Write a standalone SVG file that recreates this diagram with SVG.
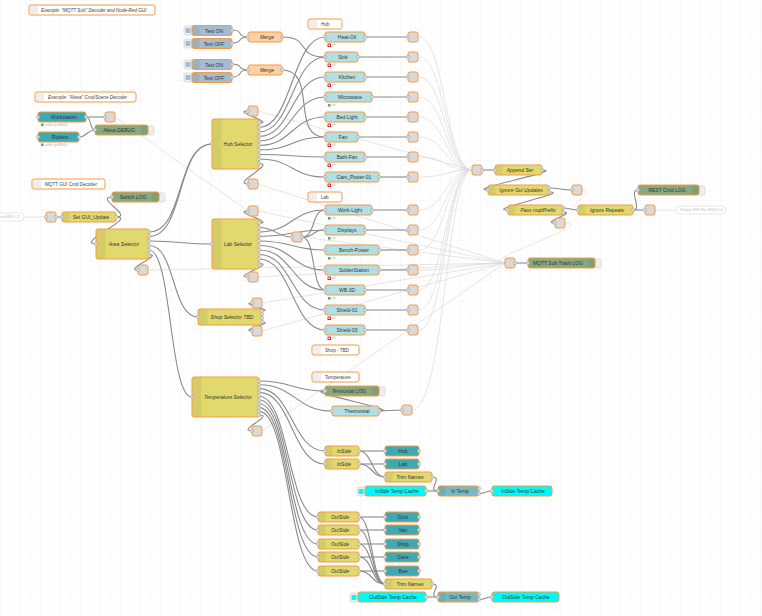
<svg xmlns="http://www.w3.org/2000/svg" width="762" height="616" viewBox="0 0 762 616">
<defs>
<pattern id="grid" width="10" height="10" patternUnits="userSpaceOnUse">
<path d="M10 0 L0 0 0 10" fill="none" stroke="#ececec" stroke-width="0.6"/>
</pattern>
<style>
.nd{stroke:#f59b42;stroke-width:1}
.ic{fill:#000;fill-opacity:.06}
.lb{font-family:"Liberation Sans",Arial,sans-serif;font-size:5px;fill:#333;text-anchor:middle;dominant-baseline:central}
.cm{font-family:"Liberation Sans",Arial,sans-serif;font-size:4.6px;fill:#444;dominant-baseline:central}
.it{font-style:italic}
.w{fill:none;stroke:#8a8a8a;stroke-width:1.1}
.lk{fill:none;stroke:#dadada;stroke-width:.7}
.pt{fill:#d9d9d9;stroke:#999;stroke-width:.4}
.gr{fill:#d9d9d9}
.fn{fill:#e2d96e}
.dv{fill:#b2dfe4}
.dt{fill:#3fa8b2}
.dbg{fill:#87a980}
.inj{fill:#a6bbcf}
.mg{fill:#fcd1a5}
.cy{fill:#00fafa}
.tp{fill:#7ab8bf}
.cmt{fill:#fff}
.cmi{fill:#eee}
.btn{fill:#eee;stroke:#ccc;stroke-width:.6}
.st{font-family:"Liberation Sans",Arial,sans-serif;font-size:3px;fill:#aaa;dominant-baseline:central}
.off{fill:#fff;stroke:#d00;stroke-width:.8}
.on{fill:#4caf7d}
.fd{fill:#fff;stroke:#ddd;stroke-width:.7}
.fdt{font-family:"Liberation Sans",Arial,sans-serif;font-size:3.4px;fill:#bbb;dominant-baseline:central}
</style>
</defs>
<rect width="762" height="616" fill="#fff"/>
<rect width="762" height="616" fill="url(#grid)"/>

<g id="links">
<path class="lk" d="M24,217 L46,217"/>
<path class="lk" d="M115,117 L248,211"/>
<path class="lk" d="M258,111 L472,170"/>
<path class="lk" d="M258,184 L505,263"/>
<path class="lk" d="M258,211 L505,263"/>
<path class="lk" d="M258,277 L505,263"/>
<path class="lk" d="M148,270 L505,263"/>
<path class="lk" d="M262,303 L505,263"/>
<path class="lk" d="M262,331 L505,263"/>
<path class="lk" d="M262,431 L505,263"/>
<path class="lk" d="M302,237 L505,263"/>
<path class="lk" d="M419,37 C445,37 446,170 472,170"/>
<path class="lk" d="M419,57 C445,57 446,170 472,170"/>
<path class="lk" d="M419,77 C445,77 446,170 472,170"/>
<path class="lk" d="M419,97 C445,97 446,170 472,170"/>
<path class="lk" d="M419,117 C445,117 446,170 472,170"/>
<path class="lk" d="M419,137 C445,137 446,170 472,170"/>
<path class="lk" d="M419,157 C445,157 446,170 472,170"/>
<path class="lk" d="M419,177 C445,177 446,170 472,170"/>
<path class="lk" d="M419,210 C445,210 446,170 472,170"/>
<path class="lk" d="M419,230 C445,230 446,170 472,170"/>
<path class="lk" d="M419,250 C445,250 446,170 472,170"/>
<path class="lk" d="M419,270 C460,270 465,263 505,263"/>
<path class="lk" d="M419,290 C445,290 446,170 472,170"/>
<path class="lk" d="M419,310 C445,310 446,170 472,170"/>
<path class="lk" d="M419,330 C445,330 446,170 472,170"/>
<path class="lk" d="M412,410 C445,410 446,170 472,170"/>
<path class="lk" d="M582,190 C600,190 560,210 578,210"/>
<path class="lk" d="M565,223 C600,223 470,263 505,263"/>
<path class="lk" d="M655,210 L676,210"/>
</g>

<g id="wires">
<path class="w" d="M232,30 C244,30 236,37 248,37"/>
<path class="w" d="M232,43 C244,43 236,37 248,37"/>
<path class="w" d="M232,64 C244,64 236,70 248,70"/>
<path class="w" d="M232,77 C244,77 236,70 248,70"/>
<path class="w" d="M282,37 C312,37 295,57 325,57"/>
<path class="w" d="M282,70 C318,70 290,137 325,137"/>
<path class="w" d="M259,123 C276,123 231,111 248,111"/>
<path class="w" d="M259,127.5 C292,127.5 292,37 325,37"/>
<path class="w" d="M259,132 C292,132 292,57 325,57"/>
<path class="w" d="M259,136.5 C292,136.5 292,77 325,77"/>
<path class="w" d="M259,141 C292,141 292,97 325,97"/>
<path class="w" d="M259,145.5 C292,145.5 292,117 325,117"/>
<path class="w" d="M259,150 C292,150 292,137 325,137"/>
<path class="w" d="M259,154.5 C292,154.5 292,157 325,157"/>
<path class="w" d="M259,159 C292,159 292,177 325,177"/>
<path class="w" d="M259,163.5 C276,163.5 231,184 248,184"/>
<path class="w" d="M365,37 L408,37"/>
<path class="w" d="M358,57 L408,57"/>
<path class="w" d="M365,77 L408,77"/>
<path class="w" d="M372,97 L408,97"/>
<path class="w" d="M365,117 L408,117"/>
<path class="w" d="M358,137 L408,137"/>
<path class="w" d="M365,157 L408,157"/>
<path class="w" d="M379,177 L408,177"/>
<path class="w" d="M259,223 C276,223 231,211 248,211"/>
<path class="w" d="M259,227.5 C276,227.5 276,237 292,237"/>
<path class="w" d="M259,232 C292,232 292,210 325,210"/>
<path class="w" d="M259,236.5 C292,236.5 292,230 325,230"/>
<path class="w" d="M259,241 C292,241 292,250 325,250"/>
<path class="w" d="M259,245.5 C292,245.5 292,270 325,270"/>
<path class="w" d="M259,250 C292,250 292,290 325,290"/>
<path class="w" d="M259,254.5 C292,254.5 292,310 325,310"/>
<path class="w" d="M259,259 C292,259 292,330 325,330"/>
<path class="w" d="M259,263.5 C276,263.5 231,277 248,277"/>
<path class="w" d="M302,237 C316,237 311,210 325,210"/>
<path class="w" d="M302,237 C316,237 311,230 325,230"/>
<path class="w" d="M302,237 C316,237 311,290 325,290"/>
<path class="w" d="M372,210 L408,210"/>
<path class="w" d="M365,230 L408,230"/>
<path class="w" d="M379,250 L408,250"/>
<path class="w" d="M379,270 L408,270"/>
<path class="w" d="M365,290 L408,290"/>
<path class="w" d="M365,310 L408,310"/>
<path class="w" d="M365,330 L408,330"/>
<path class="w" d="M86,117 L105,117"/>
<path class="w" d="M86,117 C92,117 89,130 95,130"/>
<path class="w" d="M79,137 C87,137 87,130 95,130"/>
<path class="w" d="M56,217 L62,217"/>
<path class="w" d="M116,217 C138,217 74,244 96,244"/>
<path class="w" d="M116,217 C134,217 94,197 112,197"/>
<path class="w" d="M149,232 C185,232 176,144 212,144"/>
<path class="w" d="M149,236.5 C185,236.5 176,144 212,144"/>
<path class="w" d="M149,241 C180,241 181,244 212,244"/>
<path class="w" d="M149,245.5 C176,245.5 171,317 198,317"/>
<path class="w" d="M149,250 C172,250 169,397 192,397"/>
<path class="w" d="M149,254.5 C164,254.5 123,270 138,270"/>
<path class="w" d="M262,311 C276,311 238,303 252,303"/>
<path class="w" d="M262,322 C276,322 238,331 252,331"/>
<path class="w" d="M259,381 C292,381 292,391 325,391"/>
<path class="w" d="M259,384.8 C295,384.8 296,411 332,411"/>
<path class="w" d="M259,388.6 C292,388.6 292,451 325,451"/>
<path class="w" d="M259,392.4 C292,392.4 292,464 325,464"/>
<path class="w" d="M259,396.2 C289,396.2 288,517 318,517"/>
<path class="w" d="M259,400 C289,400 288,530 318,530"/>
<path class="w" d="M259,403.8 C289,403.8 288,544 318,544"/>
<path class="w" d="M259,407.6 C289,407.6 288,557 318,557"/>
<path class="w" d="M259,411.4 C289,411.4 288,571 318,571"/>
<path class="w" d="M259,415 C275,415 236,431 252,431"/>
<path class="w" d="M379,411 C405,411 299,391 325,391"/>
<path class="w" d="M379,411 L402,410"/>
<path class="w" d="M359,451 L385,451"/>
<path class="w" d="M359,451 C372,451 372,477 385,477"/>
<path class="w" d="M359,464 L385,464"/>
<path class="w" d="M359,464 C372,464 372,477 385,477"/>
<path class="w" d="M432,477 C444,477 426,491 438,491"/>
<path class="w" d="M426,491 L438,491"/>
<path class="w" d="M479,493.5 C486,493.5 485,491 492,491"/>
<path class="w" d="M359,517 L385,517"/>
<path class="w" d="M359,530 L385,530"/>
<path class="w" d="M359,544 L385,544"/>
<path class="w" d="M359,557 L385,557"/>
<path class="w" d="M359,571 L385,571"/>
<path class="w" d="M359,517 C372,517 372,584 385,584"/>
<path class="w" d="M359,530 C372,530 372,584 385,584"/>
<path class="w" d="M359,544 C372,544 372,584 385,584"/>
<path class="w" d="M359,557 C372,557 372,584 385,584"/>
<path class="w" d="M359,571 C372,571 372,584 385,584"/>
<path class="w" d="M432,584 C444,584 426,597 438,597"/>
<path class="w" d="M426,597 L438,597"/>
<path class="w" d="M479,599.5 C486,599.5 485,597 492,597"/>
<path class="w" d="M482,170 L495,170"/>
<path class="w" d="M542,170 C567,170 463,190 488,190"/>
<path class="w" d="M549,188 C560,188 561,190 572,190"/>
<path class="w" d="M549,192 C574,192 483,210 508,210"/>
<path class="w" d="M563,208 C570,208 571,210 578,210"/>
<path class="w" d="M563,212 C578,212 540,223 555,223"/>
<path class="w" d="M633,210 C643,210 628,190 638,190"/>
<path class="w" d="M633,210 L645,210"/>
<path class="w" d="M515,263 L528,263"/>
</g>

<g id="comments">
<g id="c-mqtt"><rect class="nd cmt" x="29" y="5" width="126" height="10" rx="2"/><rect class="cmi" x="30" y="6" width="8" height="8"/><text class="cm it" x="41" y="10">Example: "MQTT Sub" Decoder and Node-Red GUI</text></g>
<g id="c-alexa"><rect class="nd cmt" x="35" y="92" width="101" height="10" rx="2"/><rect class="cmi" x="36" y="93" width="8" height="8"/><text class="cm it" x="48" y="97">Example: "Alexa" Cmd/Scene Decoder</text></g>
<g id="c-gui"><rect class="nd cmt" x="32" y="179" width="73" height="10" rx="2"/><rect class="cmi" x="33" y="180" width="8" height="8"/><text class="cm" x="45" y="184">MQTT GUI Cmd Decoder</text></g>
<g id="c-hub"><rect class="nd cmt" x="308" y="19" width="34" height="10" rx="2"/><rect class="cmi" x="309" y="20" width="8" height="8"/><text class="cm" x="321" y="24">Hub</text></g>
<g id="c-lab"><rect class="nd cmt" x="308" y="192" width="34" height="10" rx="2"/><rect class="cmi" x="309" y="193" width="8" height="8"/><text class="cm" x="321" y="197">Lab</text></g>
<g id="c-shop"><rect class="nd cmt" x="312" y="345" width="47" height="10" rx="2"/><rect class="cmi" x="313" y="346" width="8" height="8"/><text class="cm" x="325" y="350">Shop - TBD</text></g>
<g id="c-temp"><rect class="nd cmt" x="312" y="372" width="47" height="10" rx="2"/><rect class="cmi" x="313" y="373" width="8" height="8"/><text class="cm" x="325" y="377">Temperature</text></g>
</g>

<g id="inject-nodes">
<g id="n-teston1"><rect class="btn" x="184" y="26" width="8" height="9" rx="1.5"/><rect class="inj" x="185.5" y="28" width="5" height="5" rx="1"/><rect class="nd inj" x="192" y="25.5" width="40" height="10" rx="2"/><rect class="ic" x="192.5" y="26" width="7" height="9"/><text class="lb" x="214" y="30.5">Test ON</text><rect class="pt" x="230.5" y="29" width="3" height="3" rx=".7"/></g>
<g id="n-testoff1"><rect class="btn" x="184" y="39" width="8" height="9" rx="1.5"/><rect class="inj" x="185.5" y="41" width="5" height="5" rx="1"/><rect class="nd inj" x="192" y="38.5" width="40" height="10" rx="2"/><rect class="ic" x="192.5" y="39" width="7" height="9"/><text class="lb" x="214" y="43.5">Test OFF</text><rect class="pt" x="230.5" y="42" width="3" height="3" rx=".7"/></g>
<g id="n-teston2"><rect class="btn" x="184" y="60" width="8" height="9" rx="1.5"/><rect class="inj" x="185.5" y="62" width="5" height="5" rx="1"/><rect class="nd inj" x="192" y="59.5" width="40" height="10" rx="2"/><rect class="ic" x="192.5" y="60" width="7" height="9"/><text class="lb" x="214" y="64.5">Test ON</text><rect class="pt" x="230.5" y="63" width="3" height="3" rx=".7"/></g>
<g id="n-testoff2"><rect class="btn" x="184" y="73" width="8" height="9" rx="1.5"/><rect class="inj" x="185.5" y="75" width="5" height="5" rx="1"/><rect class="nd inj" x="192" y="72.5" width="40" height="10" rx="2"/><rect class="ic" x="192.5" y="73" width="7" height="9"/><text class="lb" x="214" y="77.5">Test OFF</text><rect class="pt" x="230.5" y="76" width="3" height="3" rx=".7"/></g>
<g id="n-merge1"><rect class="nd mg" x="248" y="32" width="34" height="10" rx="2"/><text class="lb it" x="267" y="37">Merge</text><rect class="pt" x="246.5" y="35.5" width="3" height="3" rx=".7"/><rect class="pt" x="280.5" y="35.5" width="3" height="3" rx=".7"/></g>
<g id="n-merge2"><rect class="nd mg" x="248" y="65" width="34" height="10" rx="2"/><text class="lb it" x="267" y="70">Merge</text><rect class="pt" x="246.5" y="68.5" width="3" height="3" rx=".7"/><rect class="pt" x="280.5" y="68.5" width="3" height="3" rx=".7"/></g>
</g>

<g id="alexa-nodes">
<g id="n-workstation"><rect class="nd dt" x="38" y="112" width="48" height="10" rx="2"/><text class="lb" x="64" y="117">Workstation</text><rect class="pt" x="84.5" y="115.5" width="3" height="3" rx=".7"/><rect class="pt" x="36.5" y="115.5" width="3" height="3" rx=".7"/><rect class="on" x="41" y="123.5" width="2.6" height="2.6"/><text class="st" x="45" y="124.8">online (pi:68000)</text></g>
<g id="n-rickets"><rect class="nd dt" x="38" y="132" width="41" height="10" rx="2"/><text class="lb" x="60" y="137">Rickets</text><rect class="pt" x="77.5" y="135.5" width="3" height="3" rx=".7"/><rect class="pt" x="36.5" y="135.5" width="3" height="3" rx=".7"/><rect class="on" x="41" y="143.5" width="2.6" height="2.6"/><text class="st" x="45" y="144.8">online (pi:68000)</text></g>
<g id="n-alexa-link"><rect class="nd gr" x="105" y="112" width="10" height="10" rx="2"/><rect class="pt" x="103.5" y="115.5" width="3" height="3" rx=".7"/></g>
<g id="n-alexa-debug"><rect class="btn" x="148" y="126" width="6" height="9" rx="1.5"/><rect class="nd dbg" x="95" y="125" width="53" height="10" rx="2"/><rect class="ic" x="141" y="125.5" width="6.5" height="9"/><text class="lb it" x="119" y="130">Alexa DEBUG</text><rect class="pt" x="93.5" y="128.5" width="3" height="3" rx=".7"/></g>
</g>

<g id="gui-nodes">
<g id="n-faded-left"><rect class="fd" x="-22" y="213" width="46" height="8" rx="4"/><text class="fdt" x="0" y="217">ino ERR.0.21</text></g>
<g id="n-gui-link"><rect class="nd gr" x="46" y="212" width="10" height="10" rx="2"/><rect class="pt" x="44.5" y="215.5" width="3" height="3" rx=".7"/><rect class="pt" x="54.5" y="215.5" width="3" height="3" rx=".7"/></g>
<g id="n-set-gui"><rect class="nd fn" x="62" y="212" width="54" height="10" rx="2"/><rect class="ic" x="62.5" y="212.5" width="7" height="9"/><text class="lb" x="91" y="217">Set GUI_Update</text><rect class="pt" x="60.5" y="215.5" width="3" height="3" rx=".7"/><rect class="pt" x="114.5" y="215.5" width="3" height="3" rx=".7"/></g>
<g id="n-switch-log"><rect class="btn" x="159" y="193" width="6" height="9" rx="1.5"/><rect class="nd dbg" x="112" y="192" width="47" height="10" rx="2"/><rect class="ic" x="152" y="192.5" width="6.5" height="9"/><text class="lb it" x="133" y="197">Switch LOG</text><rect class="pt" x="110.5" y="195.5" width="3" height="3" rx=".7"/></g>
<g id="n-area"><rect class="nd fn" x="96" y="229" width="53" height="30" rx="2"/><rect class="ic" x="96.5" y="229.5" width="9" height="29"/><text class="lb it" x="124" y="244">Area Selector</text><rect class="pt" x="94.5" y="242.5" width="3" height="3" rx=".7"/>
<rect class="pt" x="147.5" y="230.5" width="3" height="3" rx=".7"/><rect class="pt" x="147.5" y="235" width="3" height="3" rx=".7"/><rect class="pt" x="147.5" y="239.5" width="3" height="3" rx=".7"/><rect class="pt" x="147.5" y="244" width="3" height="3" rx=".7"/><rect class="pt" x="147.5" y="248.5" width="3" height="3" rx=".7"/><rect class="pt" x="147.5" y="253" width="3" height="3" rx=".7"/></g>
<g id="n-area-link"><rect class="nd gr" x="138" y="265" width="10" height="10" rx="2"/><rect class="pt" x="136.5" y="268.5" width="3" height="3" rx=".7"/></g>
</g>

<g id="selectors">
<g id="n-hub-sel"><rect class="nd fn" x="212" y="119" width="47" height="50" rx="2"/><rect class="ic" x="212.5" y="119.5" width="9" height="49"/><text class="lb" x="238" y="144">Hub Selector</text><rect class="pt" x="210.5" y="142.5" width="3" height="3" rx=".7"/>
<rect class="pt" x="257.5" y="121.5" width="3" height="3" rx=".7"/><rect class="pt" x="257.5" y="126" width="3" height="3" rx=".7"/><rect class="pt" x="257.5" y="130.5" width="3" height="3" rx=".7"/><rect class="pt" x="257.5" y="135" width="3" height="3" rx=".7"/><rect class="pt" x="257.5" y="139.5" width="3" height="3" rx=".7"/><rect class="pt" x="257.5" y="144" width="3" height="3" rx=".7"/><rect class="pt" x="257.5" y="148.5" width="3" height="3" rx=".7"/><rect class="pt" x="257.5" y="153" width="3" height="3" rx=".7"/><rect class="pt" x="257.5" y="157.5" width="3" height="3" rx=".7"/><rect class="pt" x="257.5" y="162" width="3" height="3" rx=".7"/></g>
<g id="n-hub-top"><rect class="nd gr" x="248" y="106" width="10" height="10" rx="2"/><rect class="pt" x="246.5" y="109.5" width="3" height="3" rx=".7"/></g>
<g id="n-hub-bot"><rect class="nd gr" x="248" y="179" width="10" height="10" rx="2"/><rect class="pt" x="246.5" y="182.5" width="3" height="3" rx=".7"/></g>
<g id="n-lab-sel"><rect class="nd fn" x="212" y="219" width="47" height="50" rx="2"/><rect class="ic" x="212.5" y="219.5" width="9" height="49"/><text class="lb" x="238" y="244">Lab Selector</text><rect class="pt" x="210.5" y="242.5" width="3" height="3" rx=".7"/>
<rect class="pt" x="257.5" y="221.5" width="3" height="3" rx=".7"/><rect class="pt" x="257.5" y="226" width="3" height="3" rx=".7"/><rect class="pt" x="257.5" y="230.5" width="3" height="3" rx=".7"/><rect class="pt" x="257.5" y="235" width="3" height="3" rx=".7"/><rect class="pt" x="257.5" y="239.5" width="3" height="3" rx=".7"/><rect class="pt" x="257.5" y="244" width="3" height="3" rx=".7"/><rect class="pt" x="257.5" y="248.5" width="3" height="3" rx=".7"/><rect class="pt" x="257.5" y="253" width="3" height="3" rx=".7"/><rect class="pt" x="257.5" y="257.5" width="3" height="3" rx=".7"/><rect class="pt" x="257.5" y="262" width="3" height="3" rx=".7"/></g>
<g id="n-lab-top"><rect class="nd gr" x="248" y="206" width="10" height="10" rx="2"/><rect class="pt" x="246.5" y="209.5" width="3" height="3" rx=".7"/></g>
<g id="n-lab-bot"><rect class="nd gr" x="248" y="272" width="10" height="10" rx="2"/><rect class="pt" x="246.5" y="275.5" width="3" height="3" rx=".7"/></g>
<g id="n-lab-mid"><rect class="nd gr" x="292" y="232" width="10" height="10" rx="2"/><rect class="pt" x="290.5" y="235.5" width="3" height="3" rx=".7"/><rect class="pt" x="300.5" y="235.5" width="3" height="3" rx=".7"/></g>
<g id="n-shop-sel"><rect class="nd fn" x="198" y="309" width="64" height="16" rx="2"/><rect class="ic" x="198.5" y="309.5" width="9" height="15"/><text class="lb it" x="232" y="317">Shop Selector TBD</text><rect class="pt" x="196.5" y="315.5" width="3" height="3" rx=".7"/>
<rect class="pt" x="260.5" y="309.5" width="3" height="3" rx=".7"/><rect class="pt" x="260.5" y="313" width="3" height="3" rx=".7"/><rect class="pt" x="260.5" y="316.5" width="3" height="3" rx=".7"/><rect class="pt" x="260.5" y="320.5" width="3" height="3" rx=".7"/></g>
<g id="n-shop-top"><rect class="nd gr" x="252" y="298" width="10" height="10" rx="2"/><rect class="pt" x="250.5" y="301.5" width="3" height="3" rx=".7"/></g>
<g id="n-shop-bot"><rect class="nd gr" x="252" y="326" width="10" height="10" rx="2"/><rect class="pt" x="250.5" y="329.5" width="3" height="3" rx=".7"/></g>
<g id="n-temp-sel"><rect class="nd fn" x="192" y="377" width="67" height="40" rx="2"/><rect class="ic" x="192.5" y="377.5" width="9" height="39"/><text class="lb it" x="228" y="397">Temperature Selector</text><rect class="pt" x="190.5" y="395.5" width="3" height="3" rx=".7"/>
<rect class="pt" x="257.5" y="379.5" width="3" height="3" rx=".7"/><rect class="pt" x="257.5" y="383.3" width="3" height="3" rx=".7"/><rect class="pt" x="257.5" y="387.1" width="3" height="3" rx=".7"/><rect class="pt" x="257.5" y="390.9" width="3" height="3" rx=".7"/><rect class="pt" x="257.5" y="394.7" width="3" height="3" rx=".7"/><rect class="pt" x="257.5" y="398.5" width="3" height="3" rx=".7"/><rect class="pt" x="257.5" y="402.3" width="3" height="3" rx=".7"/><rect class="pt" x="257.5" y="406.1" width="3" height="3" rx=".7"/><rect class="pt" x="257.5" y="409.9" width="3" height="3" rx=".7"/><rect class="pt" x="257.5" y="413.5" width="3" height="3" rx=".7"/></g>
<g id="n-temp-bot"><rect class="nd gr" x="252" y="426" width="10" height="10" rx="2"/><rect class="pt" x="250.5" y="429.5" width="3" height="3" rx=".7"/></g>
</g>

<g id="hub-devices">
<g id="n-heat-oil"><rect class="nd dv" x="325" y="32" width="40" height="10" rx="2"/><text class="lb" x="347" y="37">Heat-Oil</text><rect class="pt" x="323.5" y="35.5" width="3" height="3" rx=".7"/><rect class="pt" x="363.5" y="35.5" width="3" height="3" rx=".7"/><rect class="off" x="328" y="44" width="2.6" height="2.6"/><text class="st" x="332" y="45.3">off</text></g>
<g id="n-sink"><rect class="nd dv" x="325" y="52" width="33" height="10" rx="2"/><text class="lb" x="343" y="57">Sink</text><rect class="pt" x="323.5" y="55.5" width="3" height="3" rx=".7"/><rect class="pt" x="356.5" y="55.5" width="3" height="3" rx=".7"/><rect class="off" x="328" y="64" width="2.6" height="2.6"/><text class="st" x="332" y="65.3">off</text></g>
<g id="n-kitchen"><rect class="nd dv" x="325" y="72" width="40" height="10" rx="2"/><text class="lb" x="347" y="77">Kitchen</text><rect class="pt" x="323.5" y="75.5" width="3" height="3" rx=".7"/><rect class="pt" x="363.5" y="75.5" width="3" height="3" rx=".7"/><rect class="off" x="328" y="84" width="2.6" height="2.6"/><text class="st" x="332" y="85.3">off</text></g>
<g id="n-microwave"><rect class="nd dv" x="325" y="92" width="47" height="10" rx="2"/><text class="lb" x="350" y="97">Microwave</text><rect class="pt" x="323.5" y="95.5" width="3" height="3" rx=".7"/><rect class="pt" x="370.5" y="95.5" width="3" height="3" rx=".7"/><rect class="on" x="328" y="104" width="2.6" height="2.6"/><text class="st" x="332" y="105.3">on</text></g>
<g id="n-bed-light"><rect class="nd dv" x="325" y="112" width="40" height="10" rx="2"/><text class="lb" x="347" y="117">Bed Light</text><rect class="pt" x="323.5" y="115.5" width="3" height="3" rx=".7"/><rect class="pt" x="363.5" y="115.5" width="3" height="3" rx=".7"/><rect class="off" x="328" y="124" width="2.6" height="2.6"/><text class="st" x="332" y="125.3">off</text></g>
<g id="n-fan"><rect class="nd dv" x="325" y="132" width="33" height="10" rx="2"/><text class="lb" x="343" y="137">Fan</text><rect class="pt" x="323.5" y="135.5" width="3" height="3" rx=".7"/><rect class="pt" x="356.5" y="135.5" width="3" height="3" rx=".7"/><rect class="off" x="328" y="144" width="2.6" height="2.6"/><text class="st" x="332" y="145.3">off</text></g>
<g id="n-bath-fan"><rect class="nd dv" x="325" y="152" width="40" height="10" rx="2"/><text class="lb" x="347" y="157">Bath-Fan</text><rect class="pt" x="323.5" y="155.5" width="3" height="3" rx=".7"/><rect class="pt" x="363.5" y="155.5" width="3" height="3" rx=".7"/><rect class="off" x="328" y="164" width="2.6" height="2.6"/><text class="st" x="332" y="165.3">off</text></g>
<g id="n-cam-power"><rect class="nd dv" x="325" y="172" width="54" height="10" rx="2"/><text class="lb" x="354" y="177">Cam_Power-01</text><rect class="pt" x="323.5" y="175.5" width="3" height="3" rx=".7"/><rect class="pt" x="377.5" y="175.5" width="3" height="3" rx=".7"/><rect class="off" x="328" y="184" width="2.6" height="2.6"/><text class="st" x="332" y="185.3">off</text></g>
<g id="hub-links">
<rect class="nd gr" x="408" y="32" width="10" height="10" rx="2"/><rect class="nd gr" x="408" y="52" width="10" height="10" rx="2"/><rect class="nd gr" x="408" y="72" width="10" height="10" rx="2"/><rect class="nd gr" x="408" y="92" width="10" height="10" rx="2"/><rect class="nd gr" x="408" y="112" width="10" height="10" rx="2"/><rect class="nd gr" x="408" y="132" width="10" height="10" rx="2"/><rect class="nd gr" x="408" y="152" width="10" height="10" rx="2"/><rect class="nd gr" x="408" y="172" width="10" height="10" rx="2"/>
<rect class="pt" x="406.5" y="35.5" width="3" height="3" rx=".7"/><rect class="pt" x="406.5" y="55.5" width="3" height="3" rx=".7"/><rect class="pt" x="406.5" y="75.5" width="3" height="3" rx=".7"/><rect class="pt" x="406.5" y="95.5" width="3" height="3" rx=".7"/><rect class="pt" x="406.5" y="115.5" width="3" height="3" rx=".7"/><rect class="pt" x="406.5" y="135.5" width="3" height="3" rx=".7"/><rect class="pt" x="406.5" y="155.5" width="3" height="3" rx=".7"/><rect class="pt" x="406.5" y="175.5" width="3" height="3" rx=".7"/>
</g>
</g>

<g id="lab-devices">
<g id="n-work-light"><rect class="nd dv" x="325" y="205" width="47" height="10" rx="2"/><text class="lb" x="350" y="210">Work-Light</text><rect class="pt" x="323.5" y="208.5" width="3" height="3" rx=".7"/><rect class="pt" x="370.5" y="208.5" width="3" height="3" rx=".7"/><rect class="on" x="328" y="217" width="2.6" height="2.6"/><text class="st" x="332" y="218.3">on</text></g>
<g id="n-displays"><rect class="nd dv" x="325" y="225" width="40" height="10" rx="2"/><text class="lb" x="347" y="230">Displays</text><rect class="pt" x="323.5" y="228.5" width="3" height="3" rx=".7"/><rect class="pt" x="363.5" y="228.5" width="3" height="3" rx=".7"/><rect class="on" x="328" y="237" width="2.6" height="2.6"/><text class="st" x="332" y="238.3">on</text></g>
<g id="n-bench-power"><rect class="nd dv" x="325" y="245" width="54" height="10" rx="2"/><text class="lb" x="354" y="250">Bench-Power</text><rect class="pt" x="323.5" y="248.5" width="3" height="3" rx=".7"/><rect class="pt" x="377.5" y="248.5" width="3" height="3" rx=".7"/><rect class="on" x="328" y="257" width="2.6" height="2.6"/><text class="st" x="332" y="258.3">on</text></g>
<g id="n-solder"><rect class="nd dv" x="325" y="265" width="54" height="10" rx="2"/><text class="lb" x="354" y="270">SolderStation</text><rect class="pt" x="323.5" y="268.5" width="3" height="3" rx=".7"/><rect class="pt" x="377.5" y="268.5" width="3" height="3" rx=".7"/><rect class="off" x="328" y="277" width="2.6" height="2.6"/><text class="st" x="332" y="278.3">off</text></g>
<g id="n-wb3d"><rect class="nd dv" x="325" y="285" width="40" height="10" rx="2"/><text class="lb" x="347" y="290">WB-3D</text><rect class="pt" x="323.5" y="288.5" width="3" height="3" rx=".7"/><rect class="pt" x="363.5" y="288.5" width="3" height="3" rx=".7"/><rect class="on" x="328" y="297" width="2.6" height="2.6"/><text class="st" x="332" y="298.3">on</text></g>
<g id="n-shield01"><rect class="nd dv" x="325" y="305" width="40" height="10" rx="2"/><text class="lb" x="347" y="310">Shield-01</text><rect class="pt" x="323.5" y="308.5" width="3" height="3" rx=".7"/><rect class="pt" x="363.5" y="308.5" width="3" height="3" rx=".7"/><rect class="off" x="328" y="317" width="2.6" height="2.6"/><text class="st" x="332" y="318.3">off</text></g>
<g id="n-shield03"><rect class="nd dv" x="325" y="325" width="40" height="10" rx="2"/><text class="lb" x="347" y="330">Shield-03</text><rect class="pt" x="323.5" y="328.5" width="3" height="3" rx=".7"/><rect class="pt" x="363.5" y="328.5" width="3" height="3" rx=".7"/><rect class="off" x="328" y="337" width="2.6" height="2.6"/><text class="st" x="332" y="338.3">off</text></g>
<g id="lab-links">
<rect class="nd gr" x="408" y="205" width="10" height="10" rx="2"/><rect class="nd gr" x="408" y="225" width="10" height="10" rx="2"/><rect class="nd gr" x="408" y="245" width="10" height="10" rx="2"/><rect class="nd gr" x="408" y="265" width="10" height="10" rx="2"/><rect class="nd gr" x="408" y="285" width="10" height="10" rx="2"/><rect class="nd gr" x="408" y="305" width="10" height="10" rx="2"/><rect class="nd gr" x="408" y="325" width="10" height="10" rx="2"/>
<rect class="pt" x="406.5" y="208.5" width="3" height="3" rx=".7"/><rect class="pt" x="406.5" y="228.5" width="3" height="3" rx=".7"/><rect class="pt" x="406.5" y="248.5" width="3" height="3" rx=".7"/><rect class="pt" x="406.5" y="268.5" width="3" height="3" rx=".7"/><rect class="pt" x="406.5" y="288.5" width="3" height="3" rx=".7"/><rect class="pt" x="406.5" y="308.5" width="3" height="3" rx=".7"/><rect class="pt" x="406.5" y="328.5" width="3" height="3" rx=".7"/>
</g>
</g>

<g id="temp-nodes">
<g id="n-termostat-log"><rect class="btn" x="379" y="387" width="6" height="9" rx="1.5"/><rect class="nd dbg" x="325" y="386" width="54" height="10" rx="2"/><rect class="ic" x="372" y="386.5" width="6.5" height="9"/><text class="lb it" x="349" y="391">Termostat LOG</text><rect class="pt" x="323.5" y="389.5" width="3" height="3" rx=".7"/></g>
<g id="n-thermostat"><rect class="nd dv" x="332" y="406" width="47" height="10" rx="2"/><text class="lb" x="357" y="411">Thermostat</text><rect class="pt" x="330.5" y="409.5" width="3" height="3" rx=".7"/><rect class="pt" x="377.5" y="409.5" width="3" height="3" rx=".7"/></g>
<g id="n-thermo-link"><rect class="nd gr" x="402" y="405" width="10" height="10" rx="2"/><rect class="pt" x="400.5" y="408.5" width="3" height="3" rx=".7"/></g>
<g id="n-inside1"><rect class="nd fn" x="325" y="446" width="34" height="10" rx="2"/><rect class="ic" x="325.5" y="446.5" width="7" height="9"/><text class="lb it" x="344" y="451">InSide</text><rect class="pt" x="323.5" y="449.5" width="3" height="3" rx=".7"/><rect class="pt" x="357.5" y="449.5" width="3" height="3" rx=".7"/></g>
<g id="n-inside2"><rect class="nd fn" x="325" y="459" width="34" height="10" rx="2"/><rect class="ic" x="325.5" y="459.5" width="7" height="9"/><text class="lb it" x="344" y="464">InSide</text><rect class="pt" x="323.5" y="462.5" width="3" height="3" rx=".7"/><rect class="pt" x="357.5" y="462.5" width="3" height="3" rx=".7"/></g>
<g id="n-hub-t"><rect class="nd dt" x="385" y="446" width="34" height="10" rx="2"/><text class="lb" x="403" y="451">Hub</text><rect class="pt" x="383.5" y="449.5" width="3" height="3" rx=".7"/><rect class="pt" x="417.5" y="449.5" width="3" height="3" rx=".7"/></g>
<g id="n-lab-t"><rect class="nd dt" x="385" y="459" width="34" height="10" rx="2"/><text class="lb" x="403" y="464">Lab</text><rect class="pt" x="383.5" y="462.5" width="3" height="3" rx=".7"/><rect class="pt" x="417.5" y="462.5" width="3" height="3" rx=".7"/></g>
<g id="n-trim1"><rect class="nd fn" x="385" y="472" width="47" height="10" rx="2"/><rect class="ic" x="385.5" y="472.5" width="7" height="9"/><text class="lb" x="410" y="477">Trim Names</text><rect class="pt" x="383.5" y="475.5" width="3" height="3" rx=".7"/><rect class="pt" x="430.5" y="475.5" width="3" height="3" rx=".7"/></g>
<g id="n-inside-cache-l"><rect class="btn" x="357" y="487" width="8" height="9" rx="1.5"/><rect class="cy" x="358.5" y="489" width="5" height="5" rx="1"/><rect class="nd cy" x="365" y="486" width="61" height="10" rx="2"/><text class="lb" x="397" y="491">InSide Temp Cache</text><rect class="pt" x="424.5" y="489.5" width="3" height="3" rx=".7"/></g>
<g id="n-in-temp"><rect class="nd tp" x="438" y="486" width="41" height="10" rx="2"/><rect class="ic" x="438.5" y="486.5" width="7" height="9"/><text class="lb" x="460" y="491">In Temp</text><rect class="pt" x="436.5" y="489.5" width="3" height="3" rx=".7"/><rect class="pt" x="477.5" y="487" width="3" height="3" rx=".7"/><rect class="pt" x="477.5" y="492" width="3" height="3" rx=".7"/></g>
<g id="n-inside-cache-r"><rect class="nd cy" x="492" y="486" width="60" height="10" rx="2"/><text class="lb" x="523" y="491">InSide Temp Cache</text><rect class="pt" x="490.5" y="489.5" width="3" height="3" rx=".7"/></g>
<g id="n-outside1"><rect class="nd fn" x="318" y="512" width="41" height="10" rx="2"/><rect class="ic" x="318.5" y="512.5" width="7" height="9"/><text class="lb it" x="340" y="517">OutSide</text><rect class="pt" x="316.5" y="515.5" width="3" height="3" rx=".7"/><rect class="pt" x="357.5" y="515.5" width="3" height="3" rx=".7"/></g>
<g id="n-outside2"><rect class="nd fn" x="318" y="525" width="41" height="10" rx="2"/><rect class="ic" x="318.5" y="525.5" width="7" height="9"/><text class="lb it" x="340" y="530">OutSide</text><rect class="pt" x="316.5" y="528.5" width="3" height="3" rx=".7"/><rect class="pt" x="357.5" y="528.5" width="3" height="3" rx=".7"/></g>
<g id="n-outside3"><rect class="nd fn" x="318" y="539" width="41" height="10" rx="2"/><rect class="ic" x="318.5" y="539.5" width="7" height="9"/><text class="lb it" x="340" y="544">OutSide</text><rect class="pt" x="316.5" y="542.5" width="3" height="3" rx=".7"/><rect class="pt" x="357.5" y="542.5" width="3" height="3" rx=".7"/></g>
<g id="n-outside4"><rect class="nd fn" x="318" y="552" width="41" height="10" rx="2"/><rect class="ic" x="318.5" y="552.5" width="7" height="9"/><text class="lb it" x="340" y="557">OutSide</text><rect class="pt" x="316.5" y="555.5" width="3" height="3" rx=".7"/><rect class="pt" x="357.5" y="555.5" width="3" height="3" rx=".7"/></g>
<g id="n-outside5"><rect class="nd fn" x="318" y="566" width="41" height="10" rx="2"/><rect class="ic" x="318.5" y="566.5" width="7" height="9"/><text class="lb it" x="340" y="571">OutSide</text><rect class="pt" x="316.5" y="569.5" width="3" height="3" rx=".7"/><rect class="pt" x="357.5" y="569.5" width="3" height="3" rx=".7"/></g>
<g id="n-outs"><rect class="nd dt" x="385" y="512" width="34" height="10" rx="2"/><text class="lb" x="403" y="517">Outs</text><rect class="pt" x="383.5" y="515.5" width="3" height="3" rx=".7"/><rect class="pt" x="417.5" y="515.5" width="3" height="3" rx=".7"/></g>
<g id="n-van"><rect class="nd dt" x="385" y="525" width="34" height="10" rx="2"/><text class="lb" x="403" y="530">Van</text><rect class="pt" x="383.5" y="528.5" width="3" height="3" rx=".7"/><rect class="pt" x="417.5" y="528.5" width="3" height="3" rx=".7"/></g>
<g id="n-shop"><rect class="nd dt" x="385" y="539" width="34" height="10" rx="2"/><text class="lb" x="403" y="544">Shop</text><rect class="pt" x="383.5" y="542.5" width="3" height="3" rx=".7"/><rect class="pt" x="417.5" y="542.5" width="3" height="3" rx=".7"/></g>
<g id="n-cave"><rect class="nd dt" x="385" y="552" width="34" height="10" rx="2"/><text class="lb" x="403" y="557">Cave</text><rect class="pt" x="383.5" y="555.5" width="3" height="3" rx=".7"/><rect class="pt" x="417.5" y="555.5" width="3" height="3" rx=".7"/></g>
<g id="n-bee"><rect class="nd dt" x="385" y="566" width="34" height="10" rx="2"/><text class="lb" x="403" y="571">Bee</text><rect class="pt" x="383.5" y="569.5" width="3" height="3" rx=".7"/><rect class="pt" x="417.5" y="569.5" width="3" height="3" rx=".7"/></g>
<g id="n-trim2"><rect class="nd fn" x="385" y="579" width="47" height="10" rx="2"/><rect class="ic" x="385.5" y="579.5" width="7" height="9"/><text class="lb" x="410" y="584">Trim Names</text><rect class="pt" x="383.5" y="582.5" width="3" height="3" rx=".7"/><rect class="pt" x="430.5" y="582.5" width="3" height="3" rx=".7"/></g>
<g id="n-outside-cache-l"><rect class="btn" x="350" y="593" width="8" height="9" rx="1.5"/><rect class="cy" x="351.5" y="595" width="5" height="5" rx="1"/><rect class="nd cy" x="358" y="592" width="68" height="10" rx="2"/><text class="lb" x="393" y="597">OutSide Temp Cache</text><rect class="pt" x="424.5" y="595.5" width="3" height="3" rx=".7"/></g>
<g id="n-out-temp"><rect class="nd tp" x="438" y="592" width="41" height="10" rx="2"/><rect class="ic" x="438.5" y="592.5" width="7" height="9"/><text class="lb" x="460" y="597">Out Temp</text><rect class="pt" x="436.5" y="595.5" width="3" height="3" rx=".7"/><rect class="pt" x="477.5" y="593" width="3" height="3" rx=".7"/><rect class="pt" x="477.5" y="598" width="3" height="3" rx=".7"/></g>
<g id="n-outside-cache-r"><rect class="nd cy" x="492" y="592" width="67" height="10" rx="2"/><text class="lb" x="526" y="597">OutSide Temp Cache</text><rect class="pt" x="490.5" y="595.5" width="3" height="3" rx=".7"/></g>
</g>

<g id="output-nodes">
<g id="n-link-a"><rect class="nd gr" x="472" y="165" width="10" height="10" rx="2"/><rect class="pt" x="480.5" y="168.5" width="3" height="3" rx=".7"/></g>
<g id="n-append-ser"><rect class="nd fn" x="495" y="165" width="47" height="10" rx="2"/><rect class="ic" x="495.5" y="165.5" width="7" height="9"/><text class="lb it" x="520" y="170">Append Ser</text><rect class="pt" x="493.5" y="168.5" width="3" height="3" rx=".7"/><rect class="pt" x="540.5" y="168.5" width="3" height="3" rx=".7"/></g>
<g id="n-ignore-gui"><rect class="nd fn" x="488" y="185" width="61" height="10" rx="2"/><rect class="ic" x="488.5" y="185.5" width="7" height="9"/><text class="lb it" x="521" y="190">Ignore Gui Updates</text><rect class="pt" x="486.5" y="188.5" width="3" height="3" rx=".7"/><rect class="pt" x="547.5" y="186.5" width="3" height="3" rx=".7"/><rect class="pt" x="547.5" y="190.5" width="3" height="3" rx=".7"/></g>
<g id="n-gui-trash"><rect class="nd gr" x="572" y="185" width="10" height="10" rx="2"/><rect class="pt" x="570.5" y="188.5" width="3" height="3" rx=".7"/></g>
<g id="n-pass-prefix"><rect class="nd fn" x="508" y="205" width="55" height="10" rx="2"/><rect class="ic" x="508.5" y="205.5" width="7" height="9"/><text class="lb it" x="538" y="210">Pass mqttPrefix</text><rect class="pt" x="506.5" y="208.5" width="3" height="3" rx=".7"/><rect class="pt" x="561.5" y="206.5" width="3" height="3" rx=".7"/><rect class="pt" x="561.5" y="210.5" width="3" height="3" rx=".7"/></g>
<g id="n-prefix-trash"><rect class="nd gr" x="555" y="218" width="10" height="10" rx="2"/><rect class="pt" x="553.5" y="221.5" width="3" height="3" rx=".7"/></g>
<g id="n-ignore-repeats"><rect class="nd fn" x="578" y="205" width="55" height="10" rx="2"/><rect class="ic" x="578.5" y="205.5" width="7" height="9"/><text class="lb" x="607" y="210">Ignore Repeats</text><rect class="pt" x="576.5" y="208.5" width="3" height="3" rx=".7"/><rect class="pt" x="631.5" y="208.5" width="3" height="3" rx=".7"/></g>
<g id="n-rest-log"><rect class="btn" x="699" y="186" width="6" height="9" rx="1.5"/><rect class="nd dbg" x="638" y="185" width="61" height="10" rx="2"/><rect class="ic" x="692" y="185.5" width="6.5" height="9"/><text class="lb" x="667" y="190">REST Cmd LOG</text><rect class="pt" x="636.5" y="188.5" width="3" height="3" rx=".7"/></g>
<g id="n-rest-link"><rect class="nd gr" x="645" y="205" width="10" height="10" rx="2"/><rect class="pt" x="643.5" y="208.5" width="3" height="3" rx=".7"/></g>
<g id="n-faded-right"><rect class="fd" x="676" y="206" width="50" height="8" rx="4"/><text class="fdt" x="680" y="210">Multiple ERR Rev 0900.0.12</text></g>
<g id="n-link-b"><rect class="nd gr" x="505" y="258" width="10" height="10" rx="2"/><rect class="pt" x="513.5" y="261.5" width="3" height="3" rx=".7"/></g>
<g id="n-trash-log"><rect class="btn" x="595" y="259" width="6" height="9" rx="1.5"/><rect class="nd dbg" x="528" y="258" width="67" height="10" rx="2"/><rect class="ic" x="588" y="258.5" width="6.5" height="9"/><text class="lb" x="558" y="263">MQTT Sub Trash LOG</text><rect class="pt" x="526.5" y="261.5" width="3" height="3" rx=".7"/></g>
</g>
</svg>
